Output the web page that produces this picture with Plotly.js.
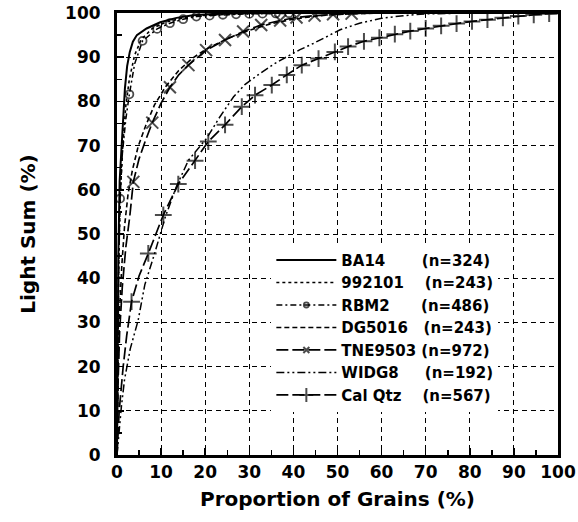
<!DOCTYPE html>
<html>
<head>
<meta charset="utf-8">
<script src="https://cdn.plot.ly/plotly-3.0.1.min.js"></script>
<style>html,body{margin:0;padding:0;background:#fff;}#chart{width:578px;height:522px;}</style>
</head>
<body>
<div id="chart"></div>
<script>
// ---- data ----
const NB = '\u00a0';
const sampleNames = ["BA14", "992101", "RBM2", "DG5016", "TNE9503", "WIDG8", "Cal Qtz"];
const sampleCounts = [324, 243, 486, 243, 972, 192, 567];
const namePad = [7, 4, 6, 3, 1, 5, 4];

const ba14X = [0, 0.1, 0.3, 0.6, 1.1, 1.5, 1.8, 2.3, 2.9, 3.6, 4.5, 6.7, 9.8, 13.5, 17.2, 22, 30, 100];
const ba14Y = [0, 20, 45, 62, 72, 79, 83, 88, 91.2, 93.5, 95, 96.5, 97.9, 98.9, 99.5, 99.8, 100, 100];

const s992101X = [0, 0.15, 0.4, 0.8, 1.3, 2, 2.8, 4, 5.5, 8, 11, 15, 20, 28, 40, 100];
const s992101Y = [0, 20, 45, 60, 70, 79, 85, 90.5, 94, 96.5, 97.9, 98.9, 99.5, 99.8, 100, 100];

const rbm2X = [0, 0.2, 0.4, 0.7, 1.2, 2, 2.8, 4, 5.8, 9.1, 12, 15, 18, 21, 24, 27, 30, 33, 36, 39, 45, 100];
const rbm2Y = [0, 25, 42, 58, 68, 76, 81.6, 88.5, 93.7, 96.4, 97.7, 98.6, 99.2, 99.4, 99.6, 99.7, 99.8, 99.85, 99.9, 99.95, 100, 100];
const rbm2MarkX = [0.7, 2.8, 5.8, 9.1, 12, 15, 18, 21, 24, 27, 30, 33, 36, 39];

const dg5016X = [0, 0.2, 0.6, 1.1, 1.7, 2.5, 3.5, 4.8, 6.5, 8.5, 11, 14, 17, 20, 25, 30, 35, 40, 45, 50, 60, 100];
const dg5016Y = [0, 18, 33, 43, 51.6, 59, 64.5, 69.8, 74.5, 79.2, 83.3, 87, 89.7, 91.7, 94.2, 96.1, 97.6, 98.6, 99.3, 99.7, 100, 100];

const tneX = [0, 0.2, 0.6, 1.2, 2, 2.9, 3.7, 5, 6.4, 8, 10, 12, 14, 16.2, 20.2, 24.5, 28.6, 32.7, 37, 40.7, 44.8, 49, 53.2, 57.4, 62, 100];
const tneY = [0, 15, 28, 38, 47, 54, 61.8, 67, 71, 75.2, 79.6, 83.2, 86, 88.2, 91.6, 93.9, 95.8, 97.3, 98.3, 99, 99.4, 99.7, 99.85, 99.95, 100, 100];
const tneMarkX = [3.7, 8, 12, 16.2, 20.2, 24.5, 28.6, 32.7, 37, 40.7, 44.8, 49, 53.2];

const widg8X = [0, 0.4, 1, 1.7, 3, 4.8, 6.3, 8.5, 11, 13.5, 16.2, 20.3, 23, 26.4, 29, 32.4, 35.5, 38.5, 41.5, 44.5, 47.5, 50.6, 55, 60, 65, 70, 80, 100];
const widg8Y = [0, 5, 11, 17, 24, 30.5, 38.5, 45.5, 54, 60.8, 66.7, 71.6, 76, 81, 83.8, 86.3, 88.4, 90.1, 91.7, 93.1, 94.7, 96.2, 97.7, 98.8, 99.4, 99.8, 100, 100];

const calX = [0, 0.5, 1.4, 2.2, 3.3, 5, 7.1, 10.5, 13.9, 17.7, 20.7, 24.5, 28.3, 31.3, 35.1, 38.5, 41.9, 45.7, 49.4, 52.4, 56, 59.5, 63, 66.5, 70, 73.5, 77, 80.5, 84, 87.5, 91, 94.5, 98, 100];
const calY = [0, 10, 20, 27, 34.7, 40.5, 45.6, 54.3, 61.3, 66.6, 70.9, 74.7, 78.8, 81.4, 83.7, 86, 88.2, 89.7, 91.2, 92.4, 93.6, 94.4, 95.2, 95.9, 96.5, 97.1, 97.6, 98.1, 98.5, 98.9, 99.3, 99.6, 99.85, 100];
const calMarkX = [3.3, 7.1, 10.5, 13.9, 17.7, 20.7, 24.5, 28.3, 31.3, 35.1, 38.5, 41.9, 45.7, 49.4, 52.4, 56, 59.5, 63, 66.5, 70, 73.5, 77, 80.5, 84, 87.5, 91, 94.5, 98];

const xTicks = [0, 10, 20, 30, 40, 50, 60, 70, 80, 90, 100];
const yTicks = [0, 10, 20, 30, 40, 50, 60, 70, 80, 90, 100];

// ---- traces ----
const names = sampleNames.map((n, i) => n.replace(' ', NB) + NB.repeat(namePad[i]) + '(n=' + sampleCounts[i] + ')');
function sizes(xs, marks, s) { return xs.map(v => marks.includes(v) ? s : 0); }

const traces = [
  {x: ba14X, y: ba14Y, name: names[0], mode: 'lines', line: {color: '#000', width: 2, dash: 'solid'}},
  {x: s992101X, y: s992101Y, name: names[1], mode: 'lines', line: {color: '#000', width: 1.6, dash: 'dot'}},
  {x: rbm2X, y: rbm2Y, name: names[2], mode: 'lines+markers', line: {color: '#000', width: 1.5, dash: '6px,3px,2px,3px'},
   marker: {symbol: 'circle-open', color: '#000', size: sizes(rbm2X, rbm2MarkX, 8), line: {width: 1.8, color: '#000'}}},
  {x: dg5016X, y: dg5016Y, name: names[3], mode: 'lines', line: {color: '#000', width: 1.6, dash: '5px,3px'}},
  {x: tneX, y: tneY, name: names[4], mode: 'lines+markers', line: {color: '#000', width: 1.7, dash: '12px,4px'},
   marker: {symbol: 'x-thin-open', color: '#000', size: sizes(tneX, tneMarkX, 12), line: {width: 2, color: '#000'}}},
  {x: widg8X, y: widg8Y, name: names[5], mode: 'lines', line: {color: '#000', width: 1.5, dash: '8px,3px,2px,3px,2px,3px'}},
  {x: calX, y: calY, name: names[6], mode: 'lines+markers', line: {color: '#000', width: 1.7, dash: '12px,4px'},
   marker: {symbol: 'cross-thin-open', color: '#000', size: sizes(calX, calMarkX, 12), line: {width: 2, color: '#000'}}}
];

const tickFont = {family: 'DejaVu Sans', size: 17, color: '#000', weight: 'bold'};
const titleFont = {family: 'DejaVu Sans', size: 20, color: '#000', weight: 'bold'};
const common = {
  range: [0, 100],
  showline: true, linecolor: '#000', linewidth: 3, mirror: true,
  showgrid: true, gridcolor: '#000', gridwidth: 1, griddash: '5px,4px',
  zeroline: false, ticks: 'inside', ticklen: 7, tickwidth: 1.5, tickcolor: '#000',
  minor: {dtick: 5, ticks: 'inside', ticklen: 5, tickwidth: 1.5, tickcolor: '#000', showgrid: false},
  tickfont: tickFont
};
const layout = {
  width: 578, height: 522,
  margin: {l: 117, r: 20, t: 13, b: 67, pad: 0},
  paper_bgcolor: '#fff', plot_bgcolor: '#fff',
  font: {family: 'DejaVu Sans', color: '#000'},
  xaxis: Object.assign({}, common, {
    tickvals: xTicks, ticktext: xTicks.map(String), ticklabelstandoff: 0,
    title: {text: 'Proportion of Grains (%)', font: titleFont, standoff: 11}
  }),
  yaxis: Object.assign({}, common, {
    tickvals: yTicks, ticktext: yTicks.map(String), ticklabelstandoff: 10,
    title: {text: 'Light Sum (%)', font: titleFont, standoff: 25}
  }),
  showlegend: true,
  legend: {x: 0.35, y: 0.478, xanchor: 'left', yanchor: 'top', bgcolor: '#fff', borderwidth: 0,
           font: {family: 'DejaVu Sans', size: 15, color: '#000', weight: 'bold'}, itemwidth: 60}
};

Plotly.newPlot('chart', traces, layout, {staticPlot: true, displayModeBar: false});
</script>
</body>
</html>
